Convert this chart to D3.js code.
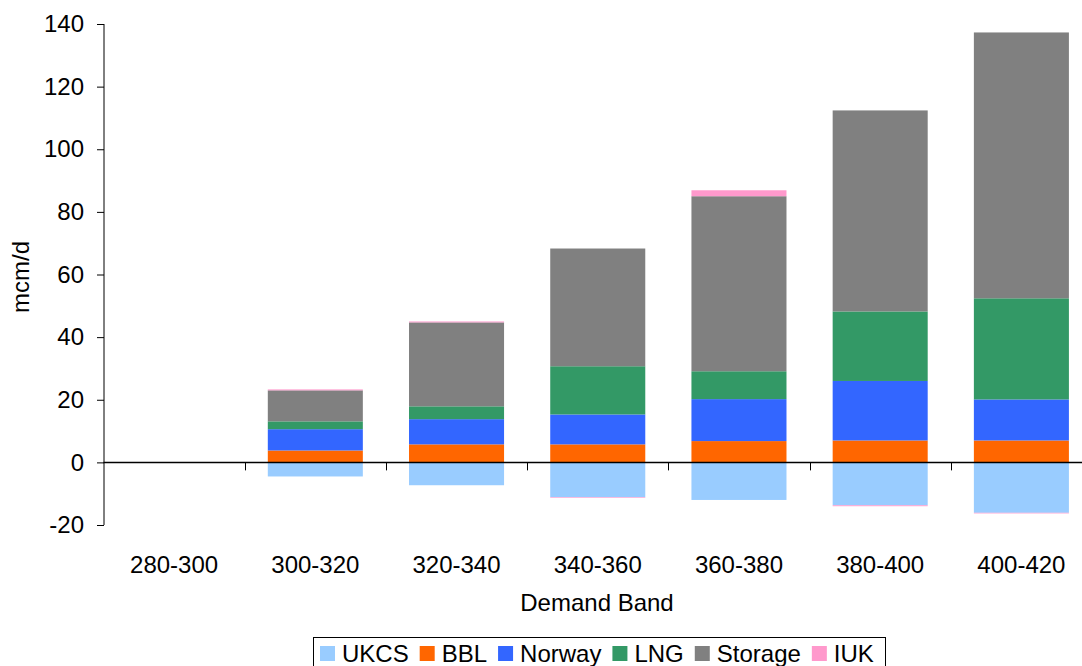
<!DOCTYPE html>
<html>
<head>
<meta charset="utf-8">
<script src="https://cdn.jsdelivr.net/npm/d3@7/dist/d3.min.js"></script>
<style>
  html, body { margin: 0; padding: 0; background: #fff; }
  svg { display: block; font-family: "Liberation Sans", Arial, sans-serif; }
</style>
</head>
<body>
<svg id="chart" width="1082" height="666"></svg>
<script>
// Demand bands (mcm/d) on the x axis
const categories = ["280-300", "300-320", "320-340", "340-360", "360-380", "380-400", "400-420"];

// Supply source contributions per demand band, mcm/d
const UKCS    = [0, -4.5, -7.3, -11.1, -12.0, -13.7, -16.1];
const BBL     = [0, 3.8, 5.75, 5.75, 6.8, 7.0, 7.0];
const Norway  = [0, 6.8, 8.05, 9.55, 13.4, 19.0, 13.1];
const LNG     = [0, 2.5, 4.1, 15.4, 8.9, 22.2, 32.3];
const Storage = [0, 9.9, 26.8, 37.6, 55.9, 64.2, 84.9];
const IUK     = [0, 0.3, 0.3, -0.2, 1.9, -0.3, -0.2];

const seriesNames = ["UKCS", "BBL", "Norway", "LNG", "Storage", "IUK"];
const seriesColors = ["#99CCFF", "#FF6600", "#3366FF", "#339966", "#808080", "#FF99CC"];
const yTicks = [-20, 0, 20, 40, 60, 80, 100, 120, 140];

const seriesValues = { UKCS, BBL, Norway, LNG, Storage, IUK };
const rows = categories.map((c, i) => {
  const r = { band: c };
  seriesNames.forEach(s => { r[s] = seriesValues[s][i]; });
  return r;
});

const svg = d3.select("#chart");
const FONT = 24;

const x = d3.scaleBand()
  .domain(categories)
  .range([103.5, 1092])
  .paddingInner(0.327)
  .paddingOuter(0.1635);

const y = d3.scaleLinear().domain([-20, 140]).range([525, 24]);

const color = d3.scaleOrdinal().domain(seriesNames).range(seriesColors);

const stacked = d3.stack()
  .keys(seriesNames)
  .offset(d3.stackOffsetDiverging)(rows);

// stacked bars
svg.append("g").selectAll("g")
  .data(stacked)
  .join("g")
  .attr("fill", d => color(d.key))
  .selectAll("rect")
  .data(d => d)
  .join("rect")
  .attr("x", d => x(d.data.band))
  .attr("width", x.bandwidth())
  .attr("y", d => y(Math.max(d[0], d[1])))
  .attr("height", d => Math.abs(y(d[0]) - y(d[1])));

// y axis
const yAxis = svg.append("g")
  .attr("transform", "translate(104,0)")
  .call(d3.axisLeft(y).tickValues(yTicks).tickSize(7).tickPadding(13).tickFormat(d => String(d)));
yAxis.select(".domain").attr("d", `M0,${y(140)}V${y(-20)}`).attr("stroke", "#000");
yAxis.selectAll(".tick line").attr("stroke", "#000");
yAxis.selectAll(".tick text")
  .attr("font-size", FONT)
  .attr("font-family", "Liberation Sans, Arial, sans-serif")
  .attr("fill", "#000");

// x axis along zero
const step = x.step();
const xStart = x.range()[0];
const xAxisG = svg.append("g");
xAxisG.append("line")
  .attr("x1", xStart).attr("x2", x.range()[1])
  .attr("y1", y(0)).attr("y2", y(0))
  .attr("stroke", "#000").attr("stroke-width", 1.5);
xAxisG.selectAll("line.tick")
  .data(categories.slice(1))
  .join("line")
  .attr("class", "tick")
  .attr("x1", (d, i) => Math.round(xStart + (i + 1) * step) + 0.5)
  .attr("x2", (d, i) => Math.round(xStart + (i + 1) * step) + 0.5)
  .attr("y1", y(0)).attr("y2", y(0) + 8)
  .attr("stroke", "#000");

// category labels
svg.append("g").selectAll("text")
  .data(categories)
  .join("text")
  .attr("x", d => x(d) + x.bandwidth() / 2)
  .attr("y", 573)
  .attr("text-anchor", "middle")
  .attr("font-size", FONT)
  .text(d => d);

// axis titles
svg.append("text")
  .attr("x", 597).attr("y", 611)
  .attr("text-anchor", "middle")
  .attr("font-size", FONT)
  .text("Demand Band");

svg.append("text")
  .attr("transform", "translate(29,277) rotate(-90)")
  .attr("text-anchor", "middle")
  .attr("font-size", FONT)
  .text("mcm/d");

// legend
const legend = svg.append("g");
const legendBox = legend.append("rect")
  .attr("fill", "#fff").attr("stroke", "#000").attr("stroke-width", 1);
let lx = 320;
const sw = 15, gapSwatch = 7, gapItem = 11;
seriesNames.forEach(name => {
  legend.append("rect")
    .attr("x", lx).attr("y", 646)
    .attr("width", sw).attr("height", sw)
    .attr("fill", color(name));
  const t = legend.append("text")
    .attr("x", lx + sw + gapSwatch).attr("y", 662)
    .attr("font-size", FONT)
    .attr("textLength", null)
    .text(name);
  lx += sw + gapSwatch + t.node().getComputedTextLength() + gapItem;
});
legendBox.attr("x", 313.5).attr("y", 637.5)
  .attr("width", 885.5 - 313.5).attr("height", 40);
</script>
</body>
</html>
